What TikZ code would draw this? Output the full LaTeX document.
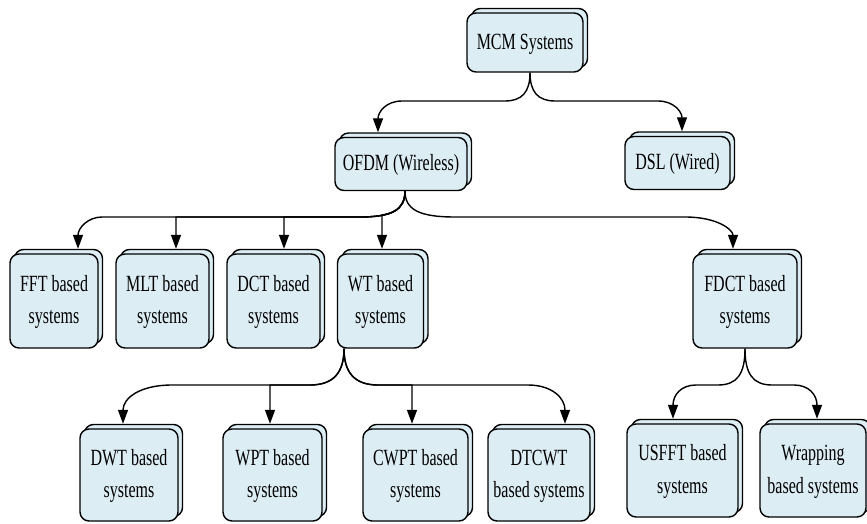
\documentclass[tikz,border=0pt]{standalone}
\usepackage{fontspec}
\usepackage{graphicx}
\setmainfont{Liberation Serif}
\usetikzlibrary{shadows,arrows.meta}

\definecolor{cardfill}{RGB}{220,237,244}

% two-line labels, set tall and narrow
\newcommand{\cardtext}[1]{\scalebox{1}[1.45]{\begin{tabular}{@{}c@{}}#1\end{tabular}}}

\tikzset{
  card/.style={draw=black, line width=1.4pt, fill=cardfill,
    rounded corners=9pt, inner sep=0pt,
    font=\fontsize{16}{22.5}\selectfont,
    copy shadow={shadow xshift=4.5pt, shadow yshift=4.5pt}},
  link/.style={line width=1.4pt, -{Triangle[length=14pt,width=10pt]}},
}

\begin{document}
\begin{tikzpicture}[x=1pt, y=-1pt]
\useasboundingbox (0,0) rectangle (867,524);

% level 0 and 1
\node[card, minimum width=116pt, minimum height=59pt] (mcm)  at (525,42.5) {\cardtext{MCM Systems}};
\node[card, minimum width=132pt, minimum height=53pt] (ofdm) at (401,164)  {\cardtext{OFDM (Wireless)}};
\node[card, minimum width=105pt, minimum height=53pt] (dsl)  at (677.5,163) {\cardtext{DSL (Wired)}};

% level 2
\node[card, minimum width=88pt,  minimum height=94pt] (fft)  at (54,301)    {\cardtext{FFT based\\systems}};
\node[card, minimum width=93pt,  minimum height=94pt] (mlt)  at (162.5,301) {\cardtext{MLT based\\systems}};
\node[card, minimum width=93pt,  minimum height=94pt] (dct)  at (273.5,301) {\cardtext{DCT based\\systems}};
\node[card, minimum width=86pt,  minimum height=94pt] (wt)   at (380.5,301) {\cardtext{WT based\\systems}};
\node[card, minimum width=104pt, minimum height=94pt] (fdct) at (745,301)   {\cardtext{FDCT based\\systems}};

% level 3
\node[card, minimum width=98pt,  minimum height=92pt] (dwt)   at (129,475)   {\cardtext{DWT based\\systems}};
\node[card, minimum width=99pt,  minimum height=92pt] (wpt)   at (272.5,475) {\cardtext{WPT based\\systems}};
\node[card, minimum width=105pt, minimum height=92pt] (cwpt)  at (415.5,475) {\cardtext{CWPT based\\systems}};
\node[card, minimum width=102pt, minimum height=92pt] (dtcwt) at (539,475)   {\cardtext{DTCWT\\based systems}};
\node[card, minimum width=111pt, minimum height=93pt] (usfft) at (682.5,470.5) {\cardtext{USFFT based\\systems}};
\node[card, minimum width=106pt, minimum height=93pt] (wrap)  at (813,470.5)   {\cardtext{Wrapping\\based systems}};

% MCM -> OFDM, DSL
\draw[link] ([xshift=5pt]mcm.south) .. controls (530,92) and (522,101) .. (505,101)
  -- (402,101) .. controls (386,101) and (378,112) .. ([xshift=-23pt,yshift=4.5pt]ofdm.north);
\draw[link] ([xshift=5pt]mcm.south) .. controls (530,92) and (538,101) .. (555,101)
  -- (658,101) .. controls (674,101) and (682,112) .. ([xshift=4.5pt,yshift=4.5pt]dsl.north);

% OFDM -> transforms
\draw[link] ([xshift=4pt]ofdm.south) .. controls (405,210) and (392,217) .. (360,217)
  -- (102,217) .. controls (88,217) and (78,228) .. ([xshift=24pt,yshift=4.5pt]fft.north);
\draw[link] ([xshift=4pt]ofdm.south) .. controls (405,210) and (392,217) .. (360,217)
  -- (176,217) -- ([xshift=13.5pt,yshift=4.5pt]mlt.north);
\draw[link] ([xshift=4pt]ofdm.south) .. controls (405,210) and (392,217) .. (360,217)
  -- (284,217) -- ([xshift=10.5pt,yshift=4.5pt]dct.north);
\draw[link] ([xshift=4pt]ofdm.south) .. controls (405,205) and (397,213) .. (382,215)
  -- ([xshift=1.5pt,yshift=4.5pt]wt.north);
\draw[link] ([xshift=4pt]ofdm.south) .. controls (405,210) and (420,217) .. (455,217)
  -- (685,217) .. controls (718,217) and (733,230) .. ([xshift=-12pt,yshift=4.5pt]fdct.north);

% WT -> wavelet variants
\draw[link] ([xshift=-36.5pt]wt.south) .. controls (344,372) and (334,385) .. (310,385)
  -- (172,385) .. controls (140,385) and (123,398) .. ([xshift=-6pt,yshift=4.5pt]dwt.north);
\draw[link] ([xshift=-36.5pt]wt.south) .. controls (344,372) and (334,385) .. (310,385)
  -- (270,385) -- ([xshift=-2.5pt,yshift=4.5pt]wpt.north);
\draw[link] ([xshift=-36.5pt]wt.south) .. controls (344,372) and (354,385) .. (378,385)
  -- (412,385) -- ([xshift=-3.5pt,yshift=4.5pt]cwpt.north);
\draw[link] ([xshift=-36.5pt]wt.south) .. controls (344,372) and (354,385) .. (378,385)
  -- (528,385) .. controls (552,385) and (565,398) .. ([xshift=26pt,yshift=4.5pt]dtcwt.north);

% FDCT -> curvelet implementations
\draw[link] ([xshift=0pt]fdct.south) .. controls (745,374) and (737,385) .. (718,385)
  -- (696,385) .. controls (681,385) and (673,395) .. ([xshift=-9.5pt,yshift=4.5pt]usfft.north);
\draw[link] ([xshift=0pt]fdct.south) .. controls (745,374) and (753,385) .. (772,385)
  -- (794,385) .. controls (809,385) and (817,395) .. ([xshift=4pt,yshift=4.5pt]wrap.north);
\end{tikzpicture}
\end{document}
